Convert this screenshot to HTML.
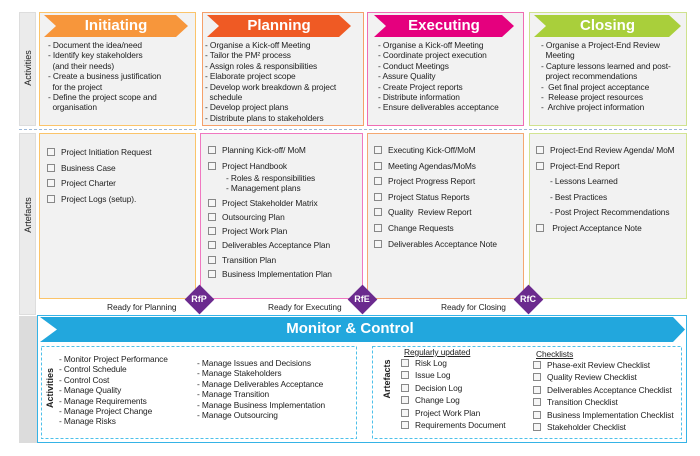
<!DOCTYPE html>
<html><head><meta charset="utf-8"><style>
*{margin:0;padding:0;box-sizing:border-box}
body{width:700px;height:456px;background:#fff;font-family:"Liberation Sans",Arial,sans-serif;color:#222;position:relative;overflow:hidden}
.a{position:absolute}
.box{position:absolute;background:#f2f2f2;border:1.5px solid}
.t{position:absolute;font-size:8.4px;line-height:10.4px;white-space:nowrap;letter-spacing:-0.1px}
.hd{position:absolute;color:#fff;font-weight:bold;font-size:15px;text-align:center;line-height:22px}
.vl{position:absolute;transform:rotate(-90deg);font-size:9px;white-space:nowrap;transform-origin:center}
.cb{display:inline-block;width:8px;height:8px;border:1px solid #888;background:#f6f6f6;vertical-align:-1px;margin-right:6px}
.li{height:15.5px}
.dm{position:absolute;width:21px;height:21px;background:#6b2a8e;transform:rotate(45deg)}
.dl{position:absolute;color:#fff;font-size:9px;font-weight:bold;width:30px;text-align:center}
</style></head><body>
<!-- left strips -->
<div class="a" style="left:19px;top:12px;width:17px;height:114px;background:#ebebeb;border:1px solid #ddd"></div>
<div class="a" style="left:19px;top:133px;width:17px;height:182px;background:#ebebeb;border:1px solid #ddd"></div>
<div class="a" style="left:19px;top:316px;width:18px;height:127px;background:#dcdcdc"></div>
<div class="vl" style="left:-2px;top:63px;width:60px;text-align:center;">Activities</div>
<div class="vl" style="left:-2px;top:210px;width:60px;text-align:center;">Artefacts</div>
<!-- dashed separator -->
<div class="a" style="left:19px;top:129px;width:668px;border-top:1.5px dashed #9bb7d8"></div>

<!-- Activity boxes -->
<div class="box" style="left:39px;top:12px;width:157px;height:114px;border-color:#fbc46a"></div>
<div class="box" style="left:202px;top:12px;width:162px;height:114px;border-color:#f5a06a"></div>
<div class="box" style="left:367px;top:12px;width:157px;height:114px;border-color:#f06cb4"></div>
<div class="box" style="left:529px;top:12px;width:158px;height:114px;border-color:#cfe28e"></div>

<svg class="a" style="left:0;top:0" width="700" height="130">
<polygon points="44,15 176,15 188,26 176,37 44,37 56,26" fill="#f7963b"/>
<polygon points="207,15 339,15 351,26 339,37 207,37 219,26" fill="#ef5a24"/>
<polygon points="374,15 502,15 514,26 502,37 374,37 386,26" fill="#e5007e"/>
<polygon points="534,15 669,15 681,26 669,37 534,37 546,26" fill="#a9cf3b"/>
</svg>
<div class="hd" style="left:56px;top:15px;width:120px">Initiating</div>
<div class="hd" style="left:219px;top:15px;width:120px">Planning</div>
<div class="hd" style="left:386px;top:15px;width:116px">Executing</div>
<div class="hd" style="left:546px;top:15px;width:123px">Closing</div>

<div class="t" style="left:48px;top:40px">- Document the idea/need<br>- Identify key stakeholders<br>&nbsp;&nbsp;(and their needs)<br>- Create a business justification<br>&nbsp;&nbsp;for the project<br>- Define the project scope and<br>&nbsp;&nbsp;organisation</div>
<div class="t" style="left:205px;top:40px">- Organise a Kick-off Meeting<br>- Tailor the PM² process<br>- Assign roles &amp; responsibilities<br>- Elaborate project scope<br>- Develop work breakdown &amp; project<br>&nbsp;&nbsp;schedule<br>- Develop project plans<br>- Distribute plans to stakeholders</div>
<div class="t" style="left:378px;top:40px">- Organise a Kick-off Meeting<br>- Coordinate project execution<br>- Conduct Meetings<br>- Assure Quality<br>- Create Project reports<br>- Distribute information<br>- Ensure deliverables acceptance</div>
<div class="t" style="left:541px;top:40px">- Organise a Project-End Review<br>&nbsp;&nbsp;Meeting<br>- Capture lessons learned and post-<br>&nbsp;&nbsp;project recommendations<br>-&nbsp; Get final project acceptance<br>-&nbsp; Release project resources<br>-&nbsp; Archive project information</div>

<!-- Artefact boxes -->
<div class="box" style="left:39px;top:133px;width:157px;height:166px;border-color:#fbc46a"></div>
<div class="box" style="left:200px;top:133px;width:163px;height:166px;border-color:#f078c0"></div>
<div class="box" style="left:367px;top:133px;width:157px;height:166px;border-color:#f5a872"></div>
<div class="box" style="left:529px;top:133px;width:158px;height:166px;border-color:#d3e492"></div>

<div class="t" style="left:47px;top:145px;line-height:15.7px"><span class="cb"></span>Project Initiation Request<br><span class="cb"></span>Business Case<br><span class="cb"></span>Project Charter<br><span class="cb"></span>Project Logs (setup).</div>
<div class="t" style="left:208px;top:143px;line-height:14.3px"><span class="cb"></span>Planning Kick-off/ MoM<br><div style="height:2px"></div><span class="cb"></span>Project Handbook<br><div style="line-height:10.5px;padding-left:18px;margin-top:-1px">- Roles &amp; responsibilities<br>- Management plans</div><div style="height:2px"></div><span class="cb"></span>Project Stakeholder Matrix<br><span class="cb"></span>Outsourcing Plan<br><span class="cb"></span>Project Work Plan<br><span class="cb"></span>Deliverables Acceptance Plan<br><span class="cb"></span>Transition Plan<br><span class="cb"></span>Business Implementation Plan</div>
<div class="t" style="left:374px;top:143px;line-height:15.6px"><span class="cb"></span>Executing Kick-Off/MoM<br><span class="cb"></span>Meeting Agendas/MoMs<br><span class="cb"></span>Project Progress Report<br><span class="cb"></span>Project Status Reports<br><span class="cb"></span>Quality&nbsp; Review Report<br><span class="cb"></span>Change Requests<br><span class="cb"></span>Deliverables Acceptance Note</div>
<div class="t" style="left:536px;top:143px;line-height:15.6px"><span class="cb"></span>Project-End Review Agenda/ MoM<br><span class="cb"></span>Project-End Report<br><span style="padding-left:14px">- Lessons Learned</span><br><span style="padding-left:14px">- Best Practices</span><br><span style="padding-left:14px">- Post Project Recommendations</span><br><span class="cb"></span>&nbsp;Project Acceptance Note</div>

<!-- ready labels -->
<div class="t" style="left:107px;top:302px">Ready for Planning</div>
<div class="t" style="left:268px;top:302px">Ready for Executing</div>
<div class="t" style="left:441px;top:302px">Ready for Closing</div>
<div class="dm" style="left:189px;top:289px"></div><div class="dl" style="left:184px;top:294px">RfP</div>
<div class="dm" style="left:352px;top:289px"></div><div class="dl" style="left:347px;top:294px">RfE</div>
<div class="dm" style="left:518px;top:289px"></div><div class="dl" style="left:513px;top:294px">RfC</div>

<!-- Monitor & Control -->
<div class="a" style="left:37px;top:315px;width:650px;height:128px;border:1.5px solid #35b3e6;background:#fff"></div>
<svg class="a" style="left:0;top:0" width="700" height="456">
<polygon points="40,317 673,317 685,329.5 673,342 40,342 57,329.5" fill="#22a7dd"/>
<rect x="41.5" y="346.5" width="315" height="92" fill="none" stroke="#4dc0ea" stroke-dasharray="3,2"/>
<rect x="372.5" y="346.5" width="309" height="92" fill="none" stroke="#4dc0ea" stroke-dasharray="3,2"/>
</svg>
<div class="hd" style="left:250px;top:318px;width:200px">Monitor &amp; Control</div>
<div class="vl" style="left:20px;top:383px;width:60px;text-align:center;font-weight:bold">Activities</div>
<div class="vl" style="left:357px;top:374px;width:60px;text-align:center;font-weight:bold">Artefacts</div>
<div class="t" style="left:59px;top:354px">- Monitor Project Performance<br>- Control Schedule<br>- Control Cost<br>- Manage Quality<br>- Manage Requirements<br>- Manage Project Change<br>- Manage Risks</div>
<div class="t" style="left:197px;top:358px">- Manage Issues and Decisions<br>- Manage Stakeholders<br>- Manage Deliverables Acceptance<br>- Manage Transition<br>- Manage Business Implementation<br>- Manage Outsourcing</div>
<div class="t" style="left:404px;top:347px;text-decoration:underline">Regularly updated</div>
<div class="t" style="left:401px;top:357px;line-height:12.4px"><span class="cb"></span>Risk Log<br><span class="cb"></span>Issue Log<br><span class="cb"></span>Decision Log<br><span class="cb"></span>Change Log<br><span class="cb"></span>Project Work Plan<br><span class="cb"></span>Requirements Document</div>
<div class="t" style="left:536px;top:349px;text-decoration:underline">Checklists</div>
<div class="t" style="left:533px;top:359px;line-height:12.4px"><span class="cb"></span>Phase-exit Review Checklist<br><span class="cb"></span>Quality Review Checklist<br><span class="cb"></span>Deliverables Acceptance Checklist<br><span class="cb"></span>Transition Checklist<br><span class="cb"></span>Business Implementation Checklist<br><span class="cb"></span>Stakeholder Checklist</div>
</body></html>
